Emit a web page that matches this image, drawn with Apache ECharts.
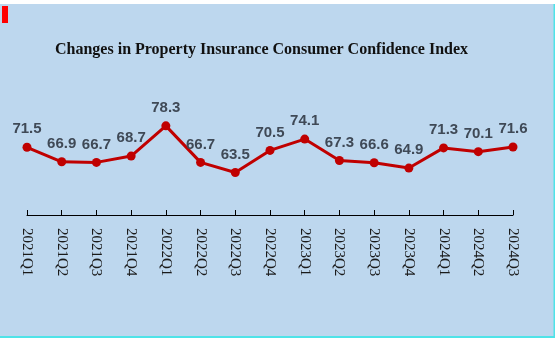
<!DOCTYPE html>
<html>
<head>
<meta charset="utf-8">
<script src="https://cdn.jsdelivr.net/npm/echarts@6/dist/echarts.min.js"></script>
<style>
html,body{margin:0;padding:0;background:#fff;}
#c{width:558px;height:341px;}
</style>
</head>
<body>
<div id="c"></div>
<script>
const categories = ['2021Q1','2021Q2','2021Q3','2021Q4','2022Q1','2022Q2','2022Q3','2022Q4','2023Q1','2023Q2','2023Q3','2023Q4','2024Q1','2024Q2','2024Q3'];
const indexValues = [71.5, 66.9, 66.7, 68.7, 78.3, 66.7, 63.5, 70.5, 74.1, 67.3, 66.6, 64.9, 71.3, 70.1, 71.6];
const titleText = 'Changes in Property Insurance Consumer Confidence Index';

const chart = echarts.init(document.getElementById('c'), null, {renderer:'canvas'});
chart.setOption({
  backgroundColor: '#ffffff',
  animation: false,
  graphic: [
    {type:'rect', z:-10, shape:{x:0, y:4, width:554, height:333}, style:{fill:'#BDD7EE'}},
    {type:'rect', z:-9, shape:{x:0, y:336, width:555, height:2}, style:{fill:'#4FE3E8'}},
    {type:'rect', z:-9, shape:{x:553.5, y:4, width:1.5, height:334}, style:{fill:'#4FE3E8'}},
    {type:'rect', z:-8, shape:{x:2, y:6, width:6, height:17}, style:{fill:'#FF0000'}}
  ],
  title: {
    text: titleText,
    left: 55,
    top: 42,
    padding: 0,
    textStyle: {fontFamily:'Liberation Serif', fontWeight:'bold', fontSize:16, color:'#111'}
  },
  grid: {left:27, right:45, top:89, bottom:126},
  xAxis: {
    type:'category',
    data: categories,
    boundaryGap:false,
    axisLine:{lineStyle:{color:'#000', width:1}},
    axisTick:{inside:true, length:5, alignWithLabel:true, lineStyle:{color:'#000'}},
    axisLabel:{rotate:-90, margin:13, fontFamily:'Liberation Serif', fontSize:15, color:'#1a1a1a', interval:0}
  },
  yAxis: {
    type:'value', min:50, max:90,
    show:false
  },
  series: [{
    type:'line',
    data: indexValues,
    symbol:'circle',
    symbolSize:9,
    lineStyle:{color:'#C00000', width:3},
    itemStyle:{color:'#C00000'},
    label:{show:true, position:'top', distance:6, fontFamily:'Liberation Sans', fontWeight:'bold', fontSize:15, color:'#3F4956'}
  }]
});
</script>
</body>
</html>
